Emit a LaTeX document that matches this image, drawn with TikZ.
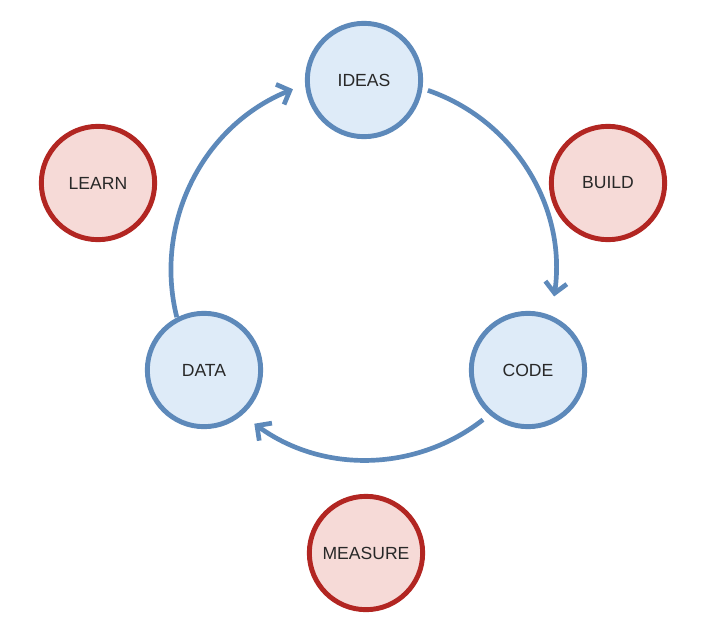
\documentclass[tikz,border=0pt]{standalone}
\usepackage{fontspec}
\setmainfont{Liberation Sans}
\usetikzlibrary{arrows.meta}
\definecolor{stepblue}{RGB}{93,137,186}
\definecolor{stepbluefill}{RGB}{222,235,248}
\definecolor{stepred}{RGB}{178,38,34}
\definecolor{stepredfill}{RGB}{246,218,215}
\definecolor{steptext}{RGB}{40,40,40}

\begin{document}
\begin{tikzpicture}[
            x = 0.03cm, y = -0.03cm, % pixel grid of the reference
            > = {Straight Barb[length=3.2mm, width=6.5mm, line width=4pt]},
            cycle/.style = {circle, draw = stepblue, fill = stepbluefill,
                line width = 4.2pt, minimum size = 3.4cm, text = steptext,
                font = \fontsize{15}{17}\selectfont},
            phase/.style = {cycle, draw = stepred, fill = stepredfill},
            loop/.style = {->, draw = stepblue, line width = 4pt}
        ]
        \useasboundingbox (0,0) rectangle (728,641);

        % hub of the loop
        \coordinate (hub) at (366,270);

        % loop nodes
        \node[cycle] (ideas) at (364,80) {IDEAS};
        \node[cycle] (code) at (528,370) {CODE};
        \node[cycle] (data) at (204,370) {DATA};

        % phases
        \node[phase] (learn) at (98,183) {LEARN};
        \node[phase] (build) at (608,183) {BUILD};
        \node[phase] (measure) at (366,553) {MEASURE};

        % arrows round the loop (angles flipped with the y axis)
        \draw[loop] ([shift={(-71:190)}]hub) arc[start angle=-71, end angle=8, radius=190];
        \draw[loop] ([shift={(52:190)}]hub) arc[start angle=52, end angle=126, radius=190];
        \draw[loop] ([shift={(166:195)}]hub) arc[start angle=166, end angle=248, radius=195];
\end{tikzpicture}
\end{document}
